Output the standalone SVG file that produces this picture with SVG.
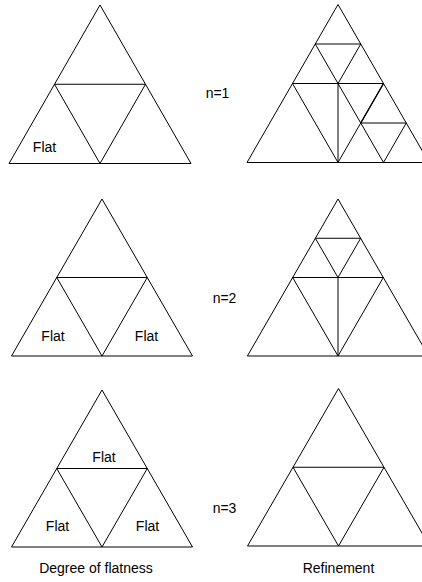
<svg xmlns="http://www.w3.org/2000/svg" width="422" height="582" viewBox="0 0 422 582">
<style>
.l{fill:none;stroke:#000;stroke-width:1;stroke-linejoin:miter}
.b{fill:none;stroke:#000;stroke-width:1.4}
text{font-family:"Liberation Sans",Arial,sans-serif;font-size:14px;fill:#000;text-anchor:middle}
</style>
<rect width="422" height="582" fill="#fff"/>
<g id="flat-n1">
<path class="l" d="M100,5 L9,163.5 L191,163.5 Z M54.5,84.25 L145.5,84.25 L100,163.5 Z"/>
<text x="44.5" y="152">Flat</text>
</g>
<g id="refine-n1">
<path class="l" d="M338,4.5 L247,162.5 L429,162.5 Z M292.5,83.5 L383.5,83.5 L338,162.5 Z M315.25,44 L360.75,44 L338,83.5 Z M338,83.5 L338,162.5 M338,83.5 L383.5,162.5 M360.75,123 L406.25,123 L383.5,162.5"/>
<path class="b" d="M383.5,83.5 L360.75,123"/>
</g>
<g id="label-n1"><text x="217.5" y="98">n=1</text></g>
<g id="flat-n2">
<path class="l" d="M102,199 L11.5,356 L192.5,356 Z M56.75,277.5 L147.25,277.5 L102,356 Z"/>
<text x="53" y="340.5">Flat</text>
<text x="146.5" y="340.5">Flat</text>
</g>
<g id="refine-n2">
<path class="l" d="M338,199 L247.4,356 L428.6,356 Z M292.7,277.5 L383.3,277.5 L338,356 Z M315.35,238.25 L360.65,238.25 L338,277.5 Z M338,277.5 L338,356"/>
</g>
<g id="label-n2"><text x="224.5" y="303">n=2</text></g>
<g id="flat-n3">
<path class="l" d="M102,390 L11.5,547 L192.5,547 Z M56.75,468.5 L147.25,468.5 L102,547 Z"/>
<text x="104" y="461.5">Flat</text>
<text x="57.5" y="530.5">Flat</text>
<text x="147.5" y="530.5">Flat</text>
</g>
<g id="refine-n3">
<path class="l" d="M338.5,388.5 L247.5,546 L429.5,546 Z M293,467.25 L384,467.25 L338.5,546 Z"/>
</g>
<g id="label-n3"><text x="224.5" y="513">n=3</text></g>
<g id="captions">
<text x="96" y="573">Degree of flatness</text>
<text x="338.5" y="573">Refinement</text>
</g>
<g id="connectors"/>
</svg>
